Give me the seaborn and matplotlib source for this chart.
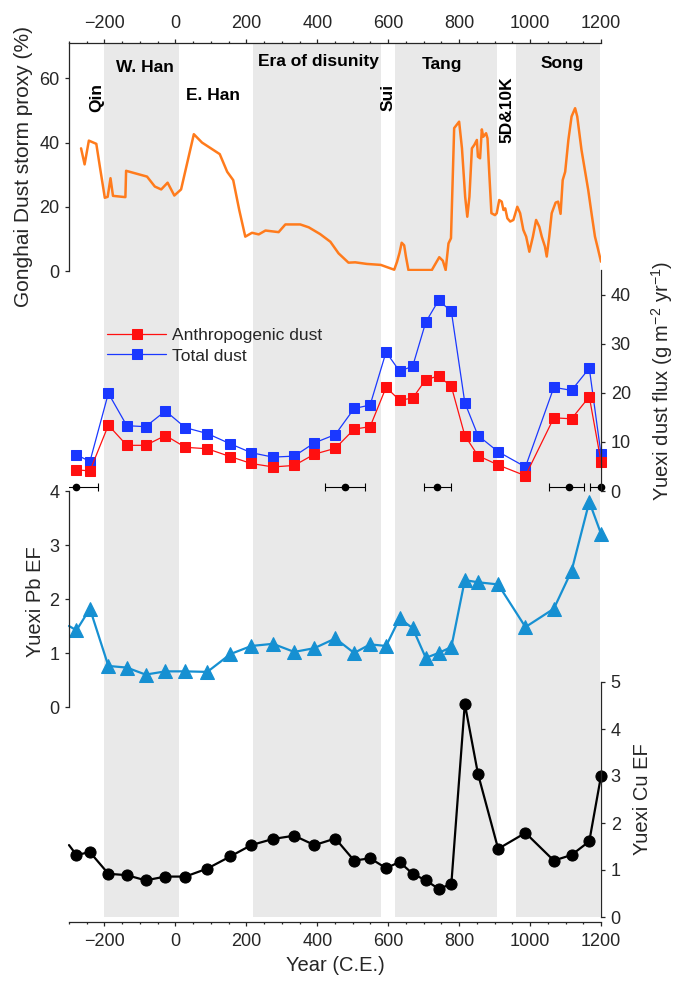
import matplotlib
matplotlib.use("Agg")
import matplotlib.pyplot as plt
from matplotlib.ticker import MultipleLocator
import seaborn as sns

# ---------------- data ----------------
gonghai_year = [-266, -256, -244, -223, -213, -199, -191, -183, -176, -141, -139, -80, -58, -40,
                -22, -3, 16, 52, 75, 125, 146, 163, 180, 197, 216, 235, 254, 291, 310, 352,
                376, 408, 437, 460, 488, 507, 540, 579, 617, 625, 632, 638, 645, 650, 657,
                723, 744, 754, 762, 770, 777, 786, 800, 808, 817, 823, 829, 836, 843, 850,
                853, 859, 864, 868, 876, 880, 885, 891, 901, 906, 913, 920, 925, 930, 936,
                944, 953, 964, 972, 981, 989, 998, 1008, 1017, 1026, 1033, 1042, 1047, 1054,
                1061, 1072, 1079, 1086, 1092, 1099, 1108, 1117, 1127, 1133, 1145, 1164, 1174,
                1183, 1191, 1200]
gonghai_pct = [38.2, 33.2, 40.6, 39.6, 32.5, 22.8, 23.1, 28.9, 23.4, 23.0, 31.2, 29.4, 26.3, 25.4,
               27.5, 23.5, 25.4, 42.6, 40.0, 36.4, 30.9, 28.3, 19.0, 10.7, 11.9, 11.4, 12.6, 12.1, 14.5, 14.5,
               13.6, 11.5, 9.1, 5.5, 2.6, 2.7, 2.2, 1.9, 0.4, 2.9, 5.7, 8.8, 8.0, 4.5, 0.3,
               0.3, 4.3, 3.2, 0.3, 8.6, 10.2, 44.5, 46.5, 38.2, 23.1, 16.9, 23.1, 38.2, 39.3, 40.8,
               35.6, 35.1, 44.1, 41.8, 42.9, 41.3, 30.4, 18.0, 17.4, 18.0, 22.1, 21.6, 19.0, 19.5, 16.4,
               15.4, 15.9, 20.0, 18.0, 12.8, 10.7, 6.0, 10.7, 15.9, 13.8, 10.7, 7.6, 4.5, 10.7,
               18.0, 21.3, 21.6, 17.8, 28.3, 30.9, 40.8, 48.1, 50.7, 48.1, 37.7, 25.2, 17.4,
               10.7, 7.1, 2.9]

sample_year = [-279, -241, -189, -137, -84, -28, 28, 90, 155, 214, 275, 335, 392, 451, 504,
               549, 594, 632, 669, 706, 742, 778, 816, 853, 910, 987, 1067, 1117, 1167, 1200]
total_dust = [7.4, 6.0, 19.9, 13.3, 13.1, 16.3, 12.9, 11.7, 9.6, 7.8, 6.9, 7.1, 9.8, 11.5, 16.8,
              17.5, 28.3, 24.4, 25.4, 34.4, 38.8, 36.6, 18.0, 11.3, 8.0, 4.9, 21.1, 20.5, 25.0, 7.5]
anthro_dust = [4.3, 4.1, 13.4, 9.3, 9.3, 11.3, 8.9, 8.6, 7.0, 5.6, 4.9, 5.2, 7.5, 8.7, 12.6,
               13.1, 21.1, 18.5, 18.9, 22.7, 23.4, 21.3, 11.3, 7.2, 5.3, 3.1, 14.9, 14.7, 19.2, 6.0]

ef_year = [-300] + sample_year
pb_ef = [1.50, 1.42, 1.82, 0.76, 0.73, 0.60, 0.66, 0.66, 0.65, 0.98, 1.13, 1.17, 1.02, 1.09, 1.27,
         1.00, 1.16, 1.13, 1.64, 1.46, 0.91, 1.00, 1.11, 2.35, 2.31, 2.27, 1.48, 1.82, 2.52, 3.80, 3.21]
cu_ef = [1.53, 1.32, 1.38, 0.92, 0.89, 0.78, 0.86, 0.86, 1.03, 1.29, 1.53, 1.66, 1.73, 1.53, 1.67,
         1.20, 1.25, 1.04, 1.17, 0.92, 0.78, 0.60, 0.70, 4.54, 3.05, 1.45, 1.79, 1.20, 1.32, 1.61, 3.00]

age_year = [-281, 477, 737, 1111, 1200]
age_err_lo = [64, 55, 35, 57, 31]
age_err_hi = [64, 57, 39, 42, 0]

dyn_start = [-200, 220, 618, 960]
dyn_end = [9, 580, 907, 1197]

dyn_names = ["Qin", "W. Han", "E. Han", "Era of disunity", "Sui", "Tang", "5D&10K", "Song"]
dyn_x = [-221, -86, 107, 403, 600, 752, 934, 1090]
dyn_y = [53.9, 63.3, 54.5, 65.1, 53.9, 64.2, 50.2, 64.5]
dyn_rot = [90, 0, 0, 0, 90, 0, 90, 0]

# ---------------- style ----------------
sns.set_style("ticks")
plt.rcParams['font.family'] = ['Liberation Sans', 'DejaVu Sans']
plt.rcParams['mathtext.fontset'] = 'custom'
plt.rcParams['mathtext.rm'] = 'Liberation Sans'
plt.rcParams['mathtext.it'] = 'Liberation Sans:italic'
plt.rcParams['mathtext.bf'] = 'Liberation Sans:bold'
INK = '#262626'
plt.rcParams.update({
    'axes.edgecolor': INK, 'axes.labelcolor': INK, 'xtick.color': INK, 'ytick.color': INK,
    'text.color': INK, 'axes.linewidth': 0.9, 'xtick.labelsize': 13, 'ytick.labelsize': 13,
    'axes.labelsize': 14.5, 'xtick.direction': 'out', 'ytick.direction': 'out',
})

ORANGE = '#ff7b1c'
RED = '#ff1010'
BLUE = '#1a38ff'
PB = '#1690d2'
SHADE = '#e9e9e9'

W, H = 673, 982
fig = plt.figure(figsize=(W / 100, H / 100), dpi=100)
XL, XR = 69, 601


def rect(top_px, bot_px):
    return [XL / W, 1 - bot_px / H, (XR - XL) / W, (bot_px - top_px) / H]


ax_bg = fig.add_axes(rect(43, 922))
ax1 = fig.add_axes(rect(43, 271))
ax2 = fig.add_axes(rect(270, 491))
ax3 = fig.add_axes(rect(491, 707))
ax4 = fig.add_axes(rect(682, 917))

XLIM = (-300, 1200)

# background: shading + shared x axes
ax_bg.set_xlim(*XLIM)
ax_bg.set_ylim(0, 1)
for s, e in zip(dyn_start, dyn_end):
    ax_bg.axvspan(s, e, ymin=0.006, ymax=1, color=SHADE, lw=0, zorder=0)
for sp in ['left', 'right']:
    ax_bg.spines[sp].set_visible(False)
ax_bg.set_yticks([])
ax_bg.xaxis.set_major_locator(MultipleLocator(200))
ax_bg.xaxis.set_minor_locator(MultipleLocator(50))
ax_bg.tick_params(axis='x', which='both', top=True, bottom=True, labeltop=True, labelbottom=True)
ax_bg.tick_params(axis='x', which='major', length=3, width=0.9)
ax_bg.tick_params(axis='x', which='minor', length=1.5, width=0.9)
ax_bg.tick_params(axis='x', which='major', pad=5)
ax_bg.set_xlabel("Year (C.E.)", labelpad=4)

for ax in (ax1, ax2, ax3, ax4):
    ax.set_facecolor('none')
    ax.set_xlim(*XLIM)
    ax.set_xticks([])
    for sp in ['top', 'bottom', 'left', 'right']:
        ax.spines[sp].set_visible(False)
    ax.tick_params(axis='y', length=3, width=0.9, pad=4)

# Panel 1: Gonghai
sns.lineplot(x=gonghai_year, y=gonghai_pct, ax=ax1, color=ORANGE, linewidth=1.8,
             errorbar=None, sort=False)
ax1.set_ylim(0, 71)
ax1.set_yticks([0, 20, 40, 60])
ax1.spines['left'].set_visible(True)
ax1.set_ylabel("Gonghai Dust storm proxy (%)", fontsize=15)
ax1.yaxis.set_label_coords((33 - XL) / (XR - XL), 0.46)
for name, x, y, r in zip(dyn_names, dyn_x, dyn_y, dyn_rot):
    ax1.text(x, y, name, rotation=r, ha='center', va='center', fontsize=12.5,
             fontweight='bold', color='black', clip_on=False)

# Panel 2: Yuexi dust flux
sns.lineplot(x=sample_year, y=total_dust, ax=ax2, color=BLUE, linewidth=0.9, marker='s',
             markersize=7.5, markeredgecolor=BLUE, markerfacecolor=BLUE, errorbar=None,
             label="Total dust", clip_on=False)
sns.lineplot(x=sample_year, y=anthro_dust, ax=ax2, color=RED, linewidth=0.9, marker='s',
             markersize=7.5, markeredgecolor=RED, markerfacecolor=RED, errorbar=None,
             label="Anthropogenic dust", clip_on=False)
eb = ax2.errorbar(age_year, [0.8] * len(age_year), xerr=[age_err_lo, age_err_hi], fmt='o',
                  color='black', markersize=4.5, capsize=3, elinewidth=0.8, capthick=0.8)
eb[0].set_clip_on(False)
ax2.set_ylim(0, 45)
ax2.set_yticks([0, 10, 20, 30, 40])
ax2.spines['right'].set_visible(True)
ax2.yaxis.tick_right()
ax2.yaxis.set_label_position('right')
ax2.set_ylabel(r"Yuexi dust flux (g m$^{-2}$ yr$^{-1}$)")
ax2.yaxis.set_label_coords((649 - XL) / (XR - XL), 0.5)
lines = ax2.get_lines()
h_total, h_anth = lines[0], lines[1]
leg = ax2.legend(handles=[h_anth, h_total], labels=["Anthropogenic dust", "Total dust"],
                 loc='upper left', bbox_to_anchor=((107 - XL) / (XR - XL), (491 - 328) / 221),
                 frameon=False, fontsize=12.5, handlelength=3.4, handletextpad=0.35,
                 borderpad=0, borderaxespad=0, labelspacing=0.3)

# Panel 3: Pb EF
sns.lineplot(x=ef_year, y=pb_ef, ax=ax3, color=PB, linewidth=1.6, marker='^', markersize=10.5,
             markeredgecolor=PB, markerfacecolor=PB, errorbar=None, markevery=slice(1, None),
             clip_on=False)
ax3.set_ylim(0, 4)
ax3.set_yticks([0, 1, 2, 3, 4])
ax3.spines['left'].set_visible(True)
ax3.set_ylabel("Yuexi Pb EF")
ax3.yaxis.set_label_coords((45 - XL) / (XR - XL), 0.49)

# Panel 4: Cu EF
sns.lineplot(x=ef_year, y=cu_ef, ax=ax4, color='black', linewidth=1.6, marker='o', markersize=8,
             markeredgecolor='black', markerfacecolor='black', errorbar=None,
             markevery=slice(1, None), clip_on=False)
ax4.set_ylim(0, 5)
ax4.set_yticks([0, 1, 2, 3, 4, 5])
ax4.spines['right'].set_visible(True)
ax4.yaxis.tick_right()
ax4.yaxis.set_label_position('right')
ax4.set_ylabel("Yuexi Cu EF")
ax4.yaxis.set_label_coords((633 - XL) / (XR - XL), 0.5)

fig.savefig("out.png", dpi=100)
